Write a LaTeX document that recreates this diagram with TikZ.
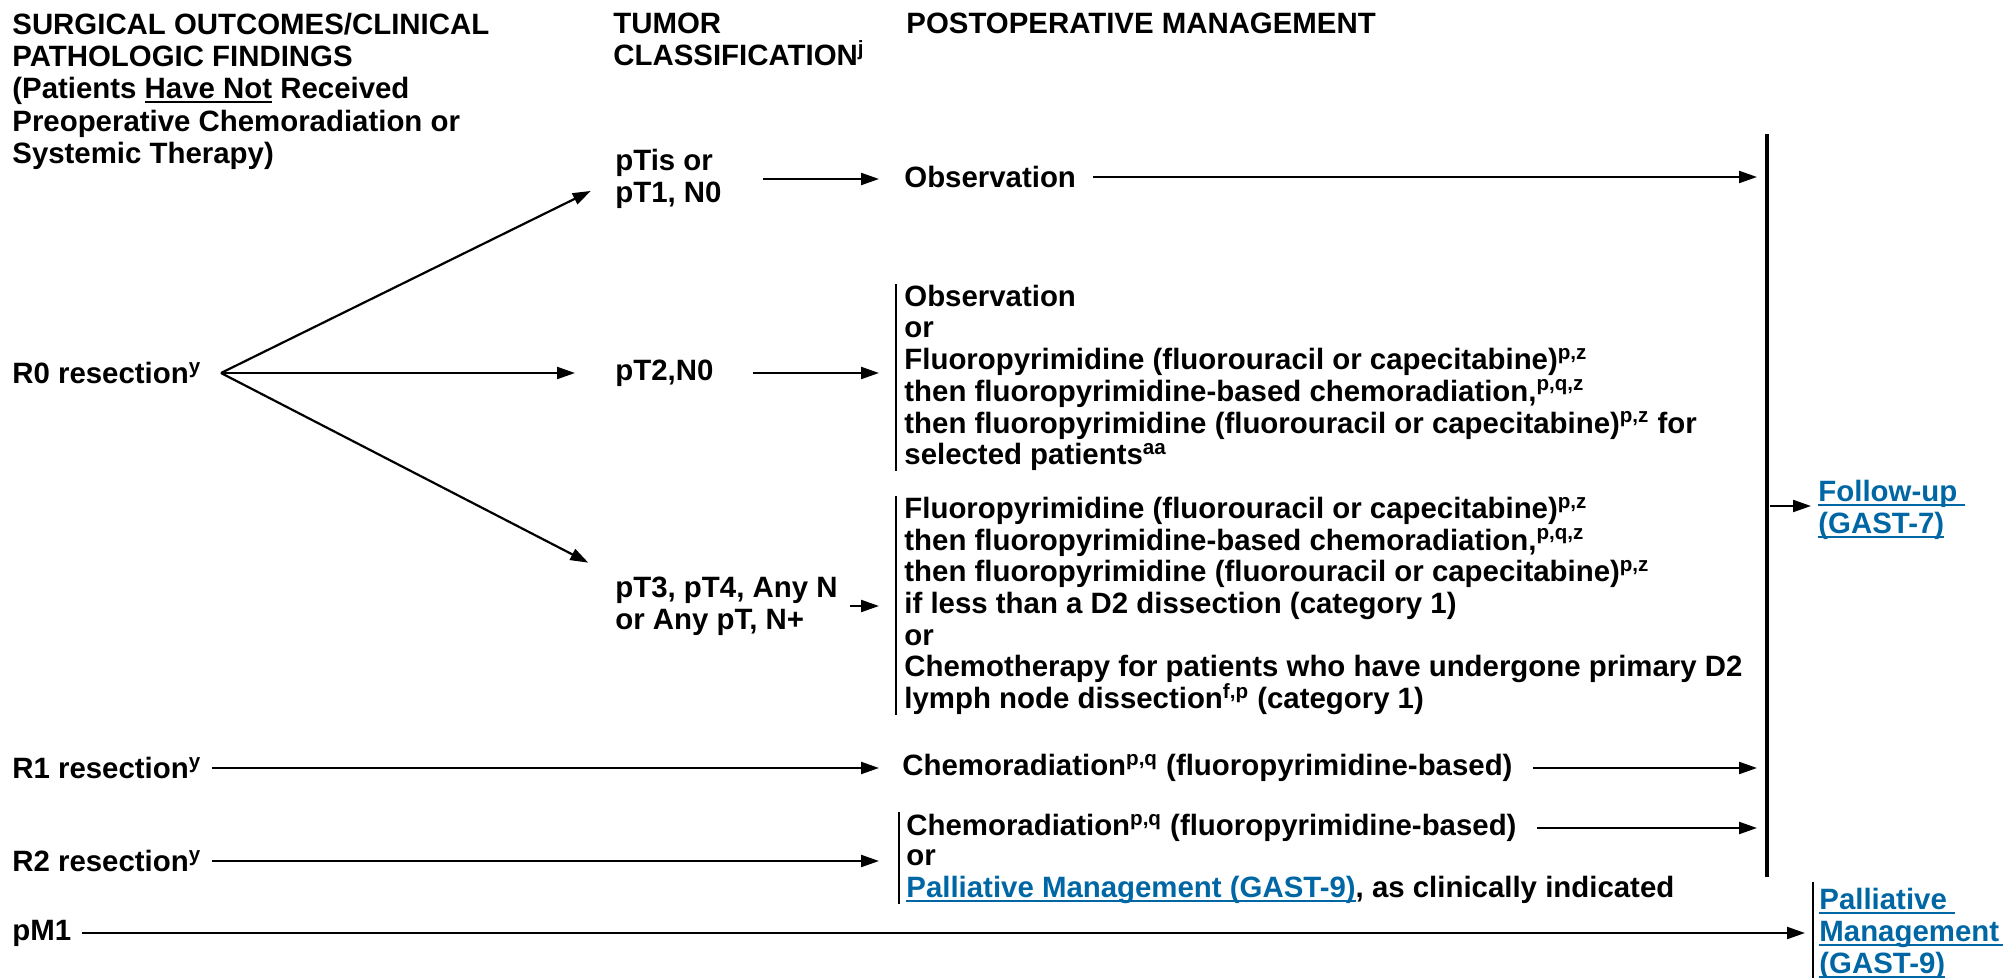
\documentclass[tikz,border=0pt]{standalone}
\usepackage{fontspec}
\setmainfont{Liberation Sans}
\usepackage{xcolor}
\usetikzlibrary{arrows.meta}

\definecolor{linkblue}{RGB}{0,103,164}
\newcommand\flowfont{\fontsize{14.7pt}{15.85pt}\selectfont\bfseries}
\newcommand\headfont{\fontsize{14.7pt}{16.15pt}\selectfont\bfseries}
\newcommand\linkfont{\fontsize{14.7pt}{16pt}\selectfont\bfseries\color{linkblue}}
\newsavebox\ulbox
\newcommand\ul[1]{\leavevmode\sbox\ulbox{#1}\rlap{\rule[-2pt]{\wd\ulbox}{0.8pt}}\usebox\ulbox}

\begin{document}
\begin{tikzpicture}[x=0.5pt,y=-0.5pt,>={Triangle[length=9pt,width=6pt]},
    every node/.style={inner sep=0pt,anchor=west,align=left,font=\flowfont},
    arr/.style={->,line width=1.1pt},
    bar/.style={line width=1pt}]
        \useasboundingbox (0,0) rectangle (2003,978);

        % column headings
        \node (hd1) [anchor=north west,font=\headfont] at (12,12.5) {SURGICAL OUTCOMES/CLINICAL\\PATHOLOGIC FINDINGS\\(Patients \ul{Have Not} Received\\Preoperative Chemoradiation or\\Systemic Therapy)};
        \node (hd2) [anchor=north west,font=\headfont] at (613,12.5) {TUMOR\\CLASSIFICATION\textsuperscript{j}};
        \node (hd3) [anchor=north west,font=\headfont] at (906,12.5) {POSTOPERATIVE MANAGEMENT};

        % findings
        \node (r0) at (12,373) {R0 resection\textsuperscript{y}};
        \node (r1) at (12,768) {R1 resection\textsuperscript{y}};
        \node (r2) at (12,861) {R2 resection\textsuperscript{y}};
        \node (pm1) at (12,933) {pM1};
        \coordinate (fork) at (221,373);

        % classification
        \node (ptis) at (615,179) {pTis or\\pT1, N0};
        \node (pt2) at (615,373) {pT2,N0};
        \node (pt3) at (615,606) {pT3, pT4, Any N\\or Any pT, N+};

        % management
        \node (obs) at (904,177) {Observation};
        \node (b2) [anchor=north west] at (904,284.5) {Observation\\or\\Fluoropyrimidine (fluorouracil or capecitabine)\textsuperscript{p,z}\\then fluoropyrimidine-based chemoradiation,\textsuperscript{p,q,z}\\then fluoropyrimidine (fluorouracil or capecitabine)\textsuperscript{p,z} for\\selected patients\textsuperscript{aa}};
        \node (b3) [anchor=north west] at (904,496.5) {Fluoropyrimidine (fluorouracil or capecitabine)\textsuperscript{p,z}\\then fluoropyrimidine-based chemoradiation,\textsuperscript{p,q,z}\\then fluoropyrimidine (fluorouracil or capecitabine)\textsuperscript{p,z}\\if less than a D2 dissection (category 1)\\or\\Chemotherapy for patients who have undergone primary D2\\lymph node dissection\textsuperscript{f,p} (category 1)};
        \node (chem1) at (902,768) {Chemoradiation\textsuperscript{p,q} (fluoropyrimidine-based)};
        \node (chem2) at (906,828) {Chemoradiation\textsuperscript{p,q} (fluoropyrimidine-based)};
        \node (pal2) at (906,877) {or\\{\color{linkblue}\ul{Palliative Management (GAST-9)}}, as clinically indicated};

        % outcomes
        \coordinate (fbtop) at (1767,134);
        \coordinate (fbbot) at (1767,877);
        \node (fu) [font=\linkfont] at (1818,510) {\ul{Follow-up\ }\\\ul{(GAST-7)}};
        \node (pal) [font=\linkfont] at (1819,934) {\ul{Palliative\ }\\\ul{Management\ }\\\ul{(GAST-9)}};

        % bars
        \draw[bar] ([xshift=-4pt]b2.north west) -- ([xshift=-4pt]b2.south west);
        \draw[bar] ([xshift=-4pt]b3.north west) -- ([xshift=-4pt]b3.south west);
        \draw[bar] ([shift={(-3.5pt,1pt)}]chem2.north west) -- ([xshift=-3.5pt]pal2.south west);
        \draw[line width=1.6pt] (fbtop) -- (fbbot);
        \draw[line width=1.3pt] ([shift={(-3pt,3pt)}]pal.north west) -- ([shift={(-3pt,-8pt)}]pal.south west);

        % connectors
        \draw[arr,shorten >=13.5pt] (fork) -- (ptis.west);
        \draw[arr,shorten >=20pt] (fork) -- (pt2.west);
        \draw[arr,shorten >=15pt] (fork) -- (pt3.north west);
        \draw[arr,shorten <=20.5pt,shorten >=12.5pt] (ptis.east) -- (ptis.east -| obs.west);
        \draw[arr,shorten <=19.5pt,shorten >=12.5pt] (pt2.east) -- (pt2.east -| b2.west);
        \draw[arr,shorten <=6pt,shorten >=12.5pt] (pt3.east) -- (pt3.east -| b3.west);
        \draw[arr,shorten <=5pt,shorten >=11.5pt] (r1.east) -- (chem1.west);
        \draw[arr,shorten <=5pt,shorten >=13.5pt] (r2.east) -- (r2.east -| pal2.west);
        \draw[arr,shorten <=8.5pt,shorten >=5pt] (obs.east) -- (obs.east -| fbtop);
        \draw[arr,shorten <=10pt,shorten >=5pt] (chem1.east) -- (chem1.east -| fbtop);
        \draw[arr,shorten <=10pt,shorten >=5pt] (chem2.east) -- (chem2.east -| fbtop);
        \draw[arr,shorten <=1.5pt,shorten >=3.5pt] ([yshift=2pt]fu.west -| fbtop) -- ([yshift=2pt]fu.west);
        \draw[arr,shorten <=5pt,shorten >=7pt] (pm1.east) -- (pm1.east -| pal.west);
\end{tikzpicture}
\end{document}
